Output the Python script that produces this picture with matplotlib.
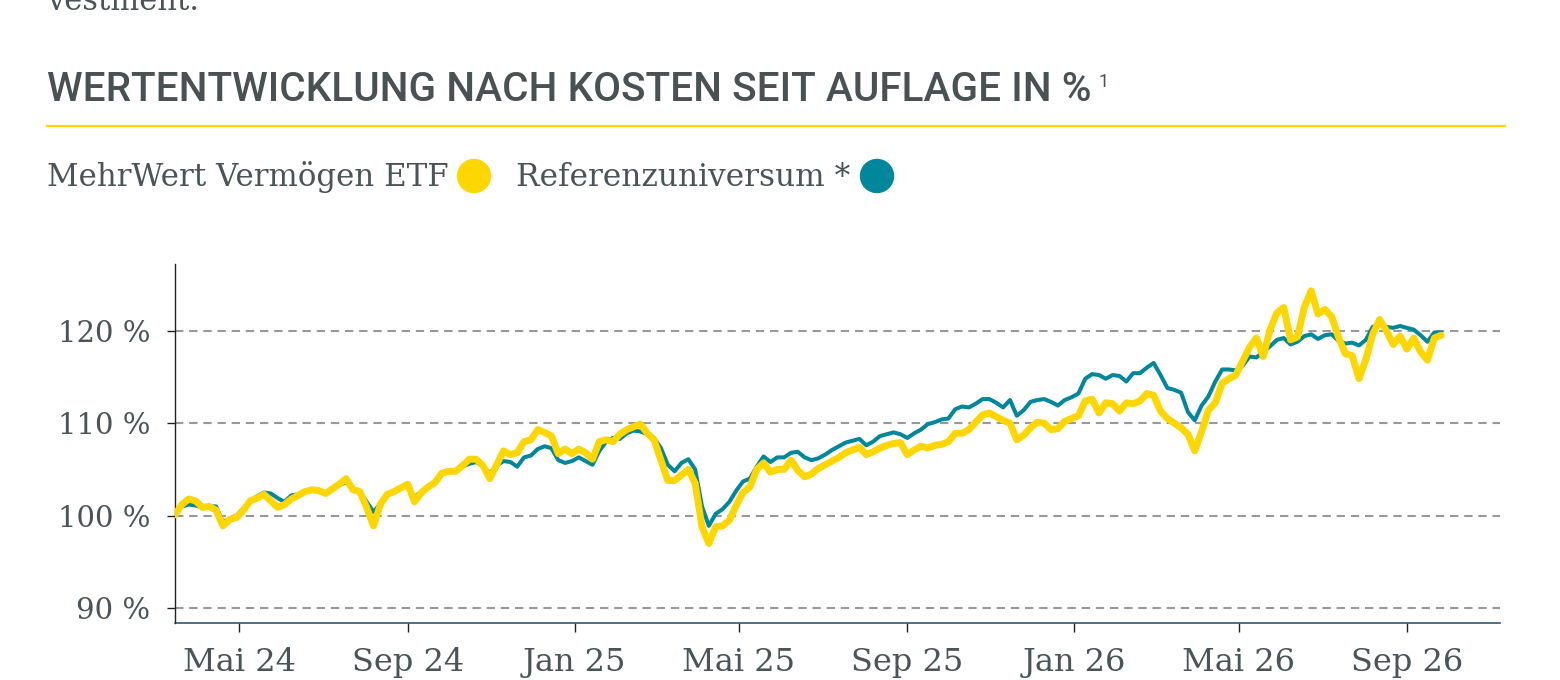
import matplotlib
matplotlib.use('Agg')
import matplotlib.pyplot as plt
from matplotlib.lines import Line2D
from matplotlib.patches import Ellipse
import pandas as pd

# values in % of the starting value, one reading every 5 days
start_date = '2024-03-15'
fund = [
    100.1, 101.2, 101.8, 101.6, 100.9, 101.0, 100.6, 98.9, 99.6, 99.8,
    100.6, 101.6, 101.9, 102.3, 101.6, 100.9, 101.2, 101.8, 102.2, 102.6,
    102.8, 102.7, 102.4, 102.9, 103.4, 104.0, 102.8, 102.6, 100.9, 98.9,
    101.2, 102.3, 102.6, 103.0, 103.4, 101.5, 102.5, 103.1, 103.6, 104.6,
    104.8, 104.8, 105.4, 106.1, 106.1, 105.4, 104.0, 105.5, 107.0, 106.6,
    106.8, 108.0, 108.2, 109.3, 109.0, 108.6, 106.7, 107.2, 106.7, 107.2,
    106.8, 106.1, 108.0, 108.2, 108.0, 108.8, 109.3, 109.6, 109.9, 108.9,
    108.2, 106.0, 103.8, 103.8, 104.4, 105.0, 103.5, 98.8, 97.0, 98.8,
    98.9, 99.5, 101.1, 102.5, 103.1, 105.0, 105.7, 104.7, 105.0, 105.0,
    106.0, 104.9, 104.2, 104.5, 105.1, 105.5, 105.9, 106.3, 106.8, 107.1,
    107.4, 106.6, 106.9, 107.3, 107.6, 107.8, 107.9, 106.6, 107.1, 107.5,
    107.3, 107.6, 107.7, 108.0, 108.9, 108.9, 109.3, 110.1, 110.9, 111.1,
    110.7, 110.3, 110.0, 108.2, 108.7, 109.5, 110.1, 110.0, 109.3, 109.4,
    110.2, 110.5, 110.8, 112.4, 112.6, 111.1, 112.2, 112.1, 111.3, 112.2,
    112.1, 112.4, 113.2, 113.0, 111.3, 110.5, 110.0, 109.5, 108.8, 107.0,
    109.1, 111.4, 112.2, 114.3, 114.8, 115.2, 116.7, 118.2, 119.2, 117.2,
    120.1, 121.9, 122.5, 119.0, 119.3, 122.5, 124.3, 121.8, 122.3, 121.5,
    119.3, 117.5, 117.3, 114.8, 116.9, 119.6, 121.2, 120.0, 118.5, 119.4,
    118.0, 119.2, 117.7, 116.8, 119.2, 119.5,
]
reference = [
    100.1, 101.0, 101.2, 101.1, 100.9, 101.0, 101.0, 99.3, 99.7, 100.0,
    100.8, 101.6, 102.1, 102.5, 102.4, 101.9, 101.5, 102.2, 102.3, 102.6,
    102.8, 102.7, 102.5, 102.9, 103.3, 103.6, 102.9, 102.6, 101.5, 100.4,
    101.3, 102.3, 102.6, 103.0, 103.3, 102.0, 102.6, 103.1, 103.6, 104.5,
    104.7, 104.8, 105.3, 105.6, 105.8, 105.3, 104.6, 105.4, 105.9, 105.8,
    105.3, 106.3, 106.5, 107.2, 107.5, 107.3, 106.0, 105.7, 105.9, 106.3,
    105.9, 105.5, 107.0, 108.0, 108.4, 108.3, 108.9, 109.2, 109.1, 108.8,
    108.4, 107.3, 105.5, 104.8, 105.7, 106.1, 105.0, 101.0, 98.9, 100.2,
    100.7, 101.5, 102.7, 103.7, 104.0, 105.3, 106.4, 105.8, 106.3, 106.3,
    106.8, 106.9, 106.3, 106.0, 106.2, 106.6, 107.1, 107.5, 107.9, 108.1,
    108.3, 107.6, 108.0, 108.6, 108.8, 109.0, 108.8, 108.4, 108.9, 109.3,
    109.9, 110.1, 110.4, 110.5, 111.5, 111.8, 111.7, 112.1, 112.6, 112.6,
    112.2, 111.7, 112.5, 110.8, 111.4, 112.3, 112.5, 112.6, 112.3, 111.9,
    112.5, 112.8, 113.2, 114.8, 115.3, 115.2, 114.8, 115.2, 115.1, 114.5,
    115.4, 115.4, 116.0, 116.5, 115.2, 113.8, 113.6, 113.3, 111.2, 110.3,
    111.9, 112.9, 114.5, 115.8, 115.8, 115.7, 116.2, 117.2, 117.1, 117.7,
    118.3, 119.0, 119.2, 118.5, 118.8, 119.4, 119.6, 119.1, 119.5, 119.6,
    118.9, 118.6, 118.7, 118.4, 119.0, 120.4, 120.7, 120.4, 120.3, 120.5,
    120.3, 120.1, 119.5, 118.8, 119.8, 119.8,
]
series_names = ['MehrWert Vermögen ETF', 'Referenzuniversum *']

tick_dates = ['2024-05-01', '2024-09-01', '2025-01-01', '2025-05-01',
              '2025-09-01', '2026-01-01', '2026-05-01', '2026-09-01']
tick_labels = ['Mai 24', 'Sep 24', 'Jan 25', 'Mai 25',
               'Sep 25', 'Jan 26', 'Mai 26', 'Sep 26']
y_ticks = [90, 100, 110, 120]
y_labels = ['90 %', '100 %', '110 %', '120 %']

YELLOW = '#ffd600'
TEAL = '#00879c'
TEXT = '#4b5456'

W, H = 1560, 680


def fx(x):
    return x / W


def fy(y):
    return 1 - y / H


plt.rcParams['font.family'] = ['DejaVu Serif']

fig = plt.figure(figsize=(W / 100, H / 100), dpi=100)

# header: last line of the paragraph above (cut off), title, rule, legend
fig.text(fx(47), fy(10), 'vestment.', fontsize=22, color=TEXT, va='baseline')
fig.text(fx(47), fy(101), 'WERTENTWICKLUNG NACH KOSTEN SEIT AUFLAGE IN %',
         family='Roboto', fontweight=500, fontsize=29.2, color='#495153',
         va='baseline')
fig.text(fx(1099), fy(87), '1', family='Roboto', fontsize=13, color='#495153',
         va='baseline')
fig.add_artist(Line2D([fx(47), fx(1505)], [fy(126), fy(126)],
                      color=YELLOW, lw=1.6, transform=fig.transFigure))

fig.text(fx(47), fy(186), series_names[0], fontsize=22.2, color=TEXT,
         va='baseline')
fig.add_artist(Ellipse((fx(474), fy(176)), 33 / W, 33 / H, color=YELLOW,
                       transform=fig.transFigure))
fig.text(fx(516), fy(186), series_names[1], fontsize=22.5, color=TEXT,
         va='baseline')
fig.add_artist(Ellipse((fx(877), fy(176)), 33 / W, 33 / H, color=TEAL,
                       transform=fig.transFigure))

# chart
ax = fig.add_axes([fx(175), fy(623), (1500 - 175) / W, (623 - 264) / H])
dates = pd.date_range(start_date, periods=len(fund), freq='5D')

ax.plot(dates, reference, color=TEAL, lw=2.9, solid_joinstyle='round',
        solid_capstyle='round', zorder=3)
ax.plot(dates, fund, color=YELLOW, lw=5.0, solid_joinstyle='round',
        solid_capstyle='round', zorder=4)

ax.set_xlim(pd.Timestamp('2024-03-15'), pd.Timestamp('2026-11-08'))
ax.set_ylim(88.4, 127.2)

ax.set_xticks(pd.to_datetime(tick_dates))
ax.set_xticklabels(tick_labels)
ax.set_yticks(y_ticks)
ax.set_yticklabels(y_labels)

ax.yaxis.grid(True, color='#999999', lw=1.5, linestyle=(0, (4, 2.8)))
ax.set_axisbelow(True)

for side in ['top', 'right']:
    ax.spines[side].set_visible(False)
ax.spines['left'].set_color('#222222')
ax.spines['left'].set_linewidth(1.0)
ax.spines['bottom'].set_color('#1d4a66')
ax.spines['bottom'].set_linewidth(1.1)

ax.tick_params(axis='y', length=6, width=1, color='#222222', pad=12,
               labelsize=21, labelcolor=TEXT)
ax.tick_params(axis='x', length=6.5, width=1, color='#222222', pad=11,
               labelsize=23, labelcolor=TEXT)

fig.savefig('out.png', dpi=100)
